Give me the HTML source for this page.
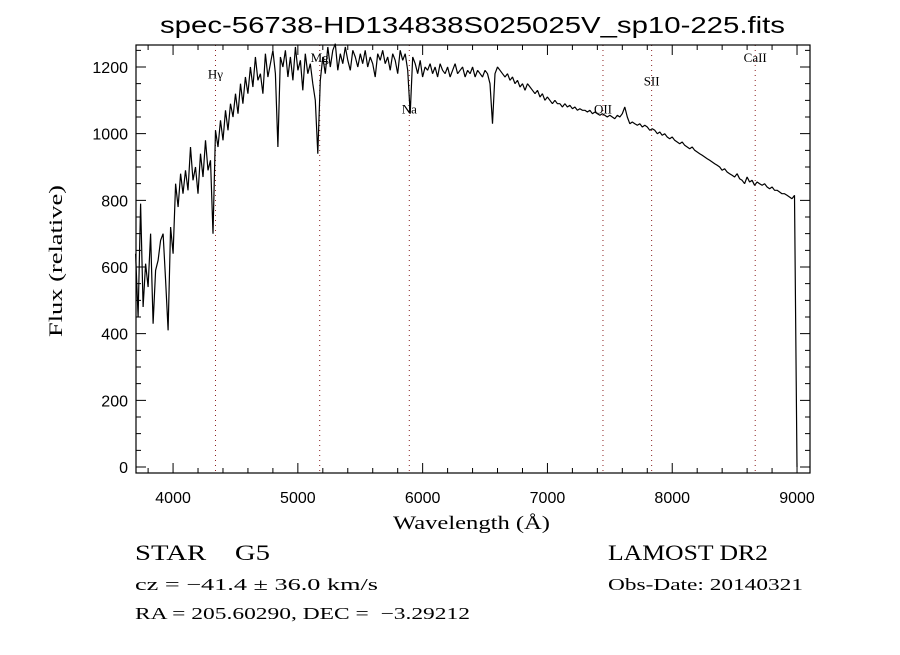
<!DOCTYPE html>
<html><head><meta charset="utf-8"><style>
body{margin:0;background:#fff;}
svg text{fill:#000;}
</style></head><body>
<svg id="chart" width="900" height="650" viewBox="0 0 900 650" xmlns="http://www.w3.org/2000/svg">
<rect width="900" height="650" fill="#fff"/>
<text x="160" y="33" textLength="625" lengthAdjust="spacingAndGlyphs" font-family="Liberation Sans, sans-serif" font-size="23">spec-56738-HD134838S025025V_sp10-225.fits</text>
<g id="grid"></g>
<g id="axes"></g>
<g id="series"></g>
<text transform="translate(62,337) rotate(-90)" textLength="152" lengthAdjust="spacingAndGlyphs" font-family="Liberation Serif, serif" font-size="19">Flux (relative)</text>
<text x="393" y="529" textLength="157" lengthAdjust="spacingAndGlyphs" font-family="Liberation Serif, serif" font-size="19">Wavelength (Å)</text>
<text x="135" y="560" textLength="135" lengthAdjust="spacingAndGlyphs" font-family="Liberation Serif, serif" font-size="22">STAR&#160;&#160;&#160;&#160;G5</text>
<text x="135" y="590" textLength="243" lengthAdjust="spacingAndGlyphs" font-family="Liberation Serif, serif" font-size="17">cz = −41.4 ± 36.0 km/s</text>
<text x="135" y="619" textLength="335" lengthAdjust="spacingAndGlyphs" font-family="Liberation Serif, serif" font-size="17">RA = 205.60290, DEC =&#160;&#160;−3.29212</text>
<text x="608" y="560" textLength="160" lengthAdjust="spacingAndGlyphs" font-family="Liberation Serif, serif" font-size="22">LAMOST DR2</text>
<text x="608" y="590" textLength="195" lengthAdjust="spacingAndGlyphs" font-family="Liberation Serif, serif" font-size="17">Obs-Date: 20140321</text>
</svg>
<script>
const xTicks=[4000,5000,6000,7000,8000,9000];
const yTicks=[0,200,400,600,800,1000,1200];
const lineNames=["Hγ","Mg","Na","OII","SII","CaII"];
const lineWaves=[4340,5175,5893,7445,7835,8665];
const lineLabelFlux=[1165,1215,1060,1060,1145,1215];
const waveStart=3700, waveStep=20;
const flux=[
640,450,790,480,610,540,700,430,590,620,
680,700,560,410,720,640,850,780,880,820,
890,830,960,860,900,820,940,870,980,890,
920,700,1010,960,1040,980,1070,1010,1090,1050,
1120,1060,1150,1090,1170,1120,1200,1140,1230,1160,
1180,1120,1240,1170,1210,1250,1180,960,1230,1200,
1250,1170,1230,1160,1260,1190,1220,1130,1240,1180,
1210,1150,1100,940,1160,1230,1180,1260,1200,1250,
1270,1190,1240,1210,1260,1220,1190,1250,1230,1200,
1240,1210,1250,1200,1230,1210,1170,1240,1220,1250,
1210,1230,1190,1240,1220,1180,1250,1220,1240,1190,
1060,1230,1210,1180,1220,1170,1200,1190,1210,1180,
1200,1170,1210,1190,1180,1200,1170,1190,1210,1180,
1190,1200,1170,1190,1180,1200,1170,1190,1180,1170,
1190,1180,1150,1030,1180,1200,1190,1180,1170,1180,
1160,1170,1150,1160,1140,1150,1130,1150,1140,1130,
1120,1130,1110,1120,1100,1110,1100,1090,1100,1090,
1090,1080,1090,1080,1085,1075,1080,1070,1075,1070,
1070,1065,1070,1060,1065,1060,1055,1060,1055,1050,
1055,1050,1045,1055,1050,1060,1080,1050,1030,1035,
1030,1025,1030,1020,1025,1020,1010,1015,1010,1000,
1005,995,1000,990,985,990,980,975,970,975,
965,960,955,960,950,945,940,935,930,925,
920,915,910,905,900,890,895,885,880,875,
870,880,865,860,850,870,855,860,845,855,
850,845,850,840,835,840,830,830,825,820,
820,815,810,805,815,0
];
const L=136,R=810,T=45,B=473;
const X0=3703,X1=9104,Y0=-18,Y1=1266;
function sx(w){return L+(w-X0)/(X1-X0)*(R-L);}
function sy(f){return B-(f-Y0)/(Y1-Y0)*(B-T);}
const NS="http://www.w3.org/2000/svg";
function mk(tag,parent){const e=document.createElementNS(NS,tag);parent.appendChild(e);return e;}
const axes=document.getElementById('axes'),grid=document.getElementById('grid'),series=document.getElementById('series');
const fr=mk('rect',axes);


fr.setAttribute('x',L);fr.setAttribute('y',T);fr.setAttribute('width',R-L);fr.setAttribute('height',B-T);
fr.setAttribute('fill','none');fr.setAttribute('stroke','#000');fr.setAttribute('stroke-width','1.2');
let d='';
for(let w=3800;w<=9100;w+=200){const x=sx(w);const len=(w%1000===0)?10:5;d+=`M${x},${B}v${-len}M${x},${T}v${len}`;}
for(let f=0;f<=1250;f+=50){const y=sy(f);const len=(f%200===0)?10:5;d+=`M${L},${y}h${len}M${R},${y}h${-len}`;}
const tk=mk('path',axes);


tk.setAttribute('d',d);tk.setAttribute('stroke','#000');tk.setAttribute('fill','none');
xTicks.forEach(v=>{const t=mk('text',axes);


t.setAttribute('x',sx(v));t.setAttribute('y',503);t.setAttribute('text-anchor','middle');
t.setAttribute('font-family','Liberation Sans, sans-serif');t.setAttribute('font-size','16');t.textContent=v;});
yTicks.forEach(v=>{const t=mk('text',axes);


t.setAttribute('x',128);t.setAttribute('y',sy(v)+6);t.setAttribute('text-anchor','end');
t.setAttribute('font-family','Liberation Sans, sans-serif');t.setAttribute('font-size','16');t.textContent=v;});
lineWaves.forEach((w,i)=>{const ln=mk('line',grid);


ln.setAttribute('x1',sx(w));ln.setAttribute('x2',sx(w));ln.setAttribute('y1',T);ln.setAttribute('y2',B);
ln.setAttribute('stroke','#8b2020');ln.setAttribute('stroke-dasharray','1,4');
const t=mk('text',grid);


t.setAttribute('x',sx(w));t.setAttribute('y',sy(lineLabelFlux[i]));t.setAttribute('text-anchor','middle');
t.setAttribute('font-family','Liberation Serif, serif');t.setAttribute('font-size','13');t.textContent=lineNames[i];});
let p='';
flux.forEach((f,i)=>{const w=waveStart+i*waveStep;p+=(i?'L':'M')+sx(w).toFixed(1)+','+sy(f).toFixed(1);});
const sp=mk('path',series);


sp.setAttribute('d',p);sp.setAttribute('fill','none');sp.setAttribute('stroke','#000');sp.setAttribute('stroke-width','1.2');sp.setAttribute('stroke-linejoin','bevel');
</script>
</body></html>
